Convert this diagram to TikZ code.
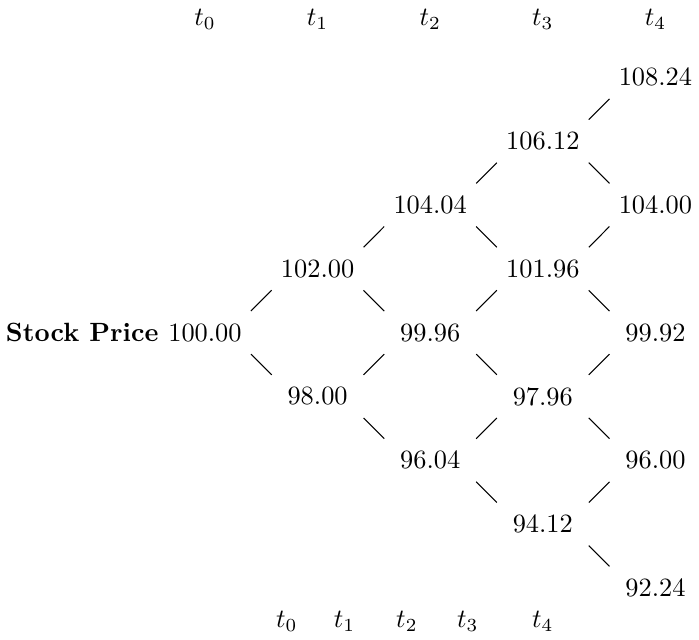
\documentclass[tikz,border=0pt]{standalone}
\usepackage{tikz}
\usepackage{amsmath}

\begin{document}
\begin{tikzpicture}[
  price/.style={minimum width=1.21cm, minimum height=0.56cm}
]

% --- Frame ---
\useasboundingbox (-2.73,-4.09) rectangle (6.58,4.43);

% --- Time labels (top) ---
\node (top0) at (0,4.17)   {$t_0$};
\node (top1) at (1.5,4.17) {$t_1$};
\node (top2) at (3.0,4.17) {$t_2$};
\node (top3) at (4.5,4.17) {$t_3$};
\node (top4) at (6.0,4.17) {$t_4$};

% --- Time labels (bottom) ---
\node (bot0) at (1.09,-3.85) {$t_0$};
\node (bot1) at (1.86,-3.85) {$t_1$};
\node (bot2) at (2.69,-3.85) {$t_2$};
\node (bot3) at (3.50,-3.85) {$t_3$};
\node (bot4) at (4.50,-3.85) {$t_4$};

% --- Price tree ---
\node[price] (p00) at (0,0) {100.00};
\node[anchor=base east, inner sep=0pt] (lbl) at (p00.base west) {\textbf{Stock Price}};

\node[price] (p11) at (1.5,0.85)  {102.00};
\node[price] (p10) at (1.5,-0.85) {98.00};

\node[price] (p22) at (3.0,1.7)  {104.04};
\node[price] (p21) at (3.0,0)    {99.96};
\node[price] (p20) at (3.0,-1.7) {96.04};

\node[price] (p33) at (4.5,2.55)  {106.12};
\node[price] (p32) at (4.5,0.85)  {101.96};
\node[price] (p31) at (4.5,-0.85) {97.96};
\node[price] (p30) at (4.5,-2.55) {94.12};

\node[price] (p44) at (6.0,3.4)  {108.24};
\node[price] (p43) at (6.0,1.7)  {104.00};
\node[price] (p42) at (6.0,0)    {99.92};
\node[price] (p41) at (6.0,-1.7) {96.00};
\node[price] (p40) at (6.0,-3.4) {92.24};

% --- Up moves ---
\draw (p00.north east) -- (p11.south west);
\draw (p11.north east) -- (p22.south west);
\draw (p10.north east) -- (p21.south west);
\draw (p22.north east) -- (p33.south west);
\draw (p21.north east) -- (p32.south west);
\draw (p20.north east) -- (p31.south west);
\draw (p33.north east) -- (p44.south west);
\draw (p32.north east) -- (p43.south west);
\draw (p31.north east) -- (p42.south west);
\draw (p30.north east) -- (p41.south west);

% --- Down moves ---
\draw (p00.south east) -- (p10.north west);
\draw (p11.south east) -- (p21.north west);
\draw (p10.south east) -- (p20.north west);
\draw (p22.south east) -- (p32.north west);
\draw (p21.south east) -- (p31.north west);
\draw (p20.south east) -- (p30.north west);
\draw (p33.south east) -- (p43.north west);
\draw (p32.south east) -- (p42.north west);
\draw (p31.south east) -- (p41.north west);
\draw (p30.south east) -- (p40.north west);

\end{tikzpicture}
\end{document}
